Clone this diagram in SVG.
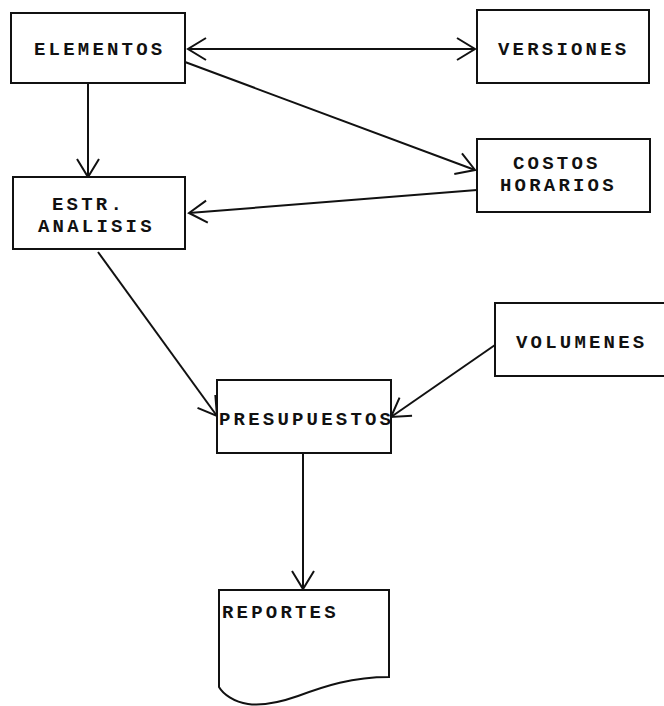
<svg xmlns="http://www.w3.org/2000/svg" width="664" height="706" viewBox="0 0 664 706">
<style>
.box{fill:#fff;stroke:#111;stroke-width:2}
.lbl{font-family:"Liberation Mono","DejaVu Sans Mono",monospace;font-size:19px;font-weight:bold;letter-spacing:3.2px;fill:#111}
.con{stroke:#111;stroke-width:2;fill:none}
</style>
<defs>
<marker id="arr" markerUnits="userSpaceOnUse" markerWidth="30" markerHeight="30" viewBox="-25 -15 30 30" refX="0" refY="0" orient="auto-start-reverse">
<path d="M-18,-11 L0,0 L-18,11" fill="none" stroke="#111" stroke-width="2"/>
</marker>
</defs>
<rect width="664" height="706" fill="#fff"/>
<g id="connectors">
<line class="con" x1="188" y1="49" x2="475" y2="49" marker-start="url(#arr)" marker-end="url(#arr)"/>
<line class="con" x1="88" y1="84" x2="88" y2="177" marker-end="url(#arr)"/>
<line class="con" x1="185" y1="62" x2="475" y2="170" marker-end="url(#arr)"/>
<line class="con" x1="477" y1="190" x2="189" y2="213" marker-end="url(#arr)"/>
<line class="con" x1="98" y1="252" x2="217" y2="416" marker-end="url(#arr)"/>
<line class="con" x1="495" y1="345" x2="391" y2="417" marker-end="url(#arr)"/>
<line class="con" x1="303" y1="454" x2="303" y2="589" marker-end="url(#arr)"/>
</g>
<g id="elementos">
<rect class="box" x="11" y="13" width="174" height="70"/>
<text class="lbl" x="34" y="55">ELEMENTOS</text>
</g>
<g id="versiones">
<rect class="box" x="477" y="10" width="172" height="73"/>
<text class="lbl" x="498" y="55">VERSIONES</text>
</g>
<g id="costos">
<rect class="box" x="477" y="139" width="173" height="73"/>
<text class="lbl" x="513" y="169">COSTOS</text>
<text class="lbl" x="500" y="191">HORARIOS</text>
</g>
<g id="estr">
<rect class="box" x="13" y="177" width="172" height="72"/>
<text class="lbl" x="52" y="210">ESTR.</text>
<text class="lbl" x="38" y="232">ANALISIS</text>
</g>
<g id="volumenes">
<rect class="box" x="495" y="303" width="175" height="73"/>
<text class="lbl" x="516" y="348">VOLUMENES</text>
</g>
<g id="presupuestos">
<rect class="box" x="217" y="380" width="174" height="73"/>
<text class="lbl" x="219" y="425">PRESUPUESTOS</text>
</g>
<g id="reportes">
<path class="box" d="M219,590 H389 V677 C352,677 325,686 298,696 C278,703 262,706 248,704 C234,702 223,694 219,687 Z"/>
<text class="lbl" x="222" y="618">REPORTES</text>
</g>
</svg>
